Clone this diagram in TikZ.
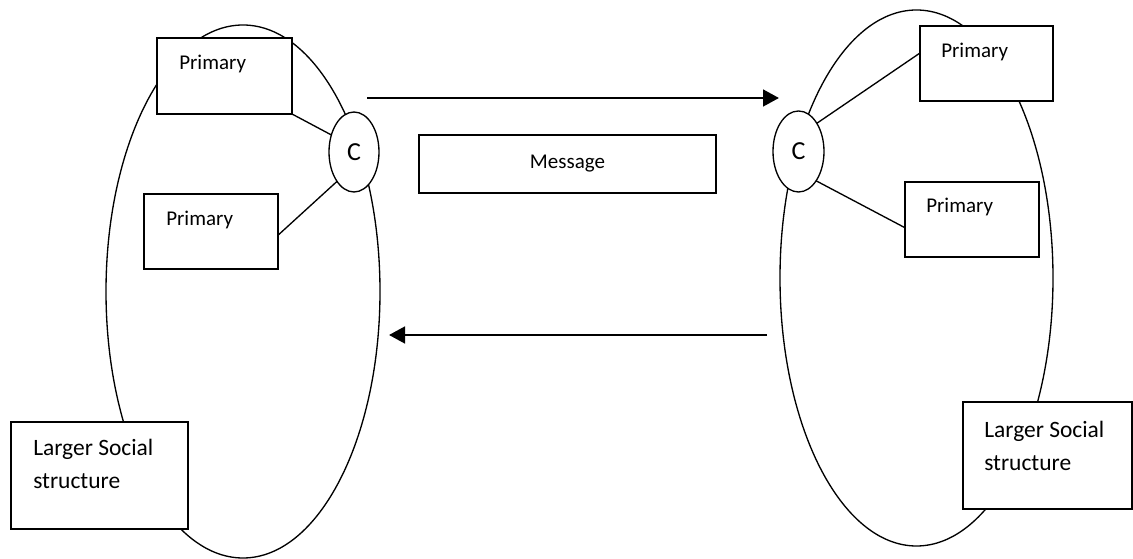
\documentclass[tikz,border=0pt]{standalone}
\usepackage{fontspec}
\setmainfont{Carlito}
\usetikzlibrary{shapes.geometric,arrows.meta,calc}
\tikzset{
  thin line/.style={line width=1pt},
  bigoval/.style={ellipse, draw, thin line, inner sep=0pt, outer sep=0pt},
  coval/.style={ellipse, draw, thin line, fill=white, inner sep=0pt, outer sep=0pt,
    font=\fontsize{19.5}{23}\selectfont},
  boxnode/.style={rectangle, draw, thin line, fill=white, inner sep=0pt, outer sep=0pt},
  primlbl/.style={anchor=base west, inner sep=0pt, font=\fontsize{15.75}{19}\selectfont},
  largelbl/.style={anchor=base west, inner sep=0pt, align=left,
    font=\fontsize{17.6}{24.75}\selectfont},
  flow/.style={line width=2pt, -{Triangle[length=12pt,width=12.5pt]}}
}
\begin{document}
\begin{tikzpicture}[x=0.75pt,y=-0.75pt]
\useasboundingbox (0,0) rectangle (1133,559);
% large ellipses
\node[bigoval, minimum width=205.5pt, minimum height=399.75pt] (e1) at (243,291.5) {};
\node[bigoval, minimum width=204.75pt, minimum height=402pt] (e2) at (916.5,278) {};
% boxes
\node[boxnode, minimum width=101.25pt, minimum height=57pt] (p1) at (224.5,76) {};
\node[boxnode, minimum width=100.5pt, minimum height=56.25pt] (p2) at (211,231.5) {};
\node[boxnode, minimum width=99.75pt, minimum height=56.25pt] (p3) at (986.5,63.5) {};
\node[boxnode, minimum width=100.5pt, minimum height=56.25pt] (p4) at (972,219.5) {};
\node[boxnode, minimum width=222.75pt, minimum height=43.5pt,
  font=\fontsize{15.75}{19}\selectfont] (msg) at (567.5,164) {Message};
\node[boxnode, minimum width=132.75pt, minimum height=80.25pt] (l1) at (99.5,475.5) {};
\node[boxnode, minimum width=126.75pt, minimum height=80.25pt] (l2) at (1047.5,455.5) {};
% C ovals
\node[coval, minimum width=37.5pt, minimum height=60pt] (c1) at (354,152) {C};
\node[coval, minimum width=38.25pt, minimum height=60.75pt] (c2) at (798.5,151.5) {C};
% connectors
\draw[thin line] (p1.south east) -- (c1.143);
\draw[thin line] ($(p2.north east)!0.55!(p2.south east)$) -- (c1.240);
\draw[thin line] (c2.57) -- ($(p3.north west)!0.36!(p3.south west)$);
\draw[thin line] (c2.301) -- ($(p4.north west)!0.61!(p4.south west)$);
% arrows
\coordinate (a1s) at (367,98);
\coordinate (a1e) at (779,98);
\coordinate (a2s) at (767,335);
\coordinate (a2e) at (389,335);
\draw[flow] (a1s) -- (a1e);
\draw[flow] (a2s) -- (a2e);
% labels
\node[primlbl] (t1) at ($(p1.north west)+(22,32)$) {Primary};
\node[primlbl] (t2) at ($(p2.north west)+(22,32)$) {Primary};
\node[primlbl] (t3) at ($(p3.north west)+(21,32)$) {Primary};
\node[primlbl] (t4) at ($(p4.north west)+(21,31)$) {Primary};
\node[largelbl] (t5) at ($(l1.north west)+(22,67)$) {Larger Social\\structure};
\node[largelbl] (t6) at ($(l2.north west)+(21,69)$) {Larger Social\\structure};
\end{tikzpicture}
\end{document}
